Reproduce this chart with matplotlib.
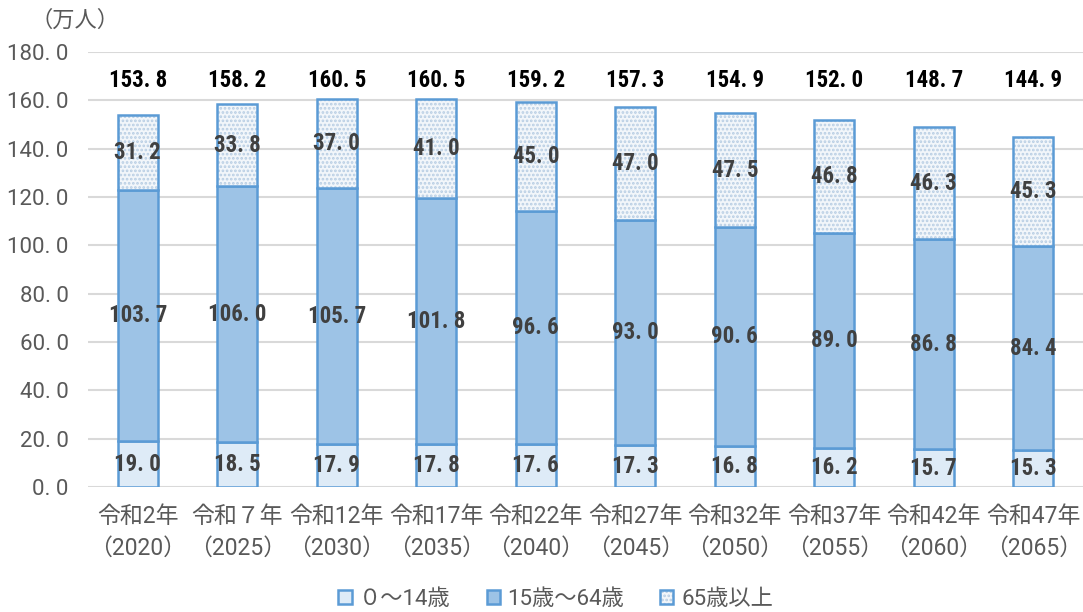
import matplotlib
matplotlib.use("Agg")
import matplotlib.pyplot as plt
import numpy as np

plt.rcParams['font.family'] = ['Noto Sans CJK JP', 'DejaVu Sans']
plt.rcParams['hatch.linewidth'] = 1.3

categories = ["令和2年\n（2020）", "令和７年\n（2025）", "令和12年\n（2030）", "令和17年\n（2035）",
              "令和22年\n（2040）", "令和27年\n（2045）", "令和32年\n（2050）", "令和37年\n（2055）",
              "令和42年\n（2060）", "令和47年\n（2065）"]
age_0_14 = [19.0, 18.5, 17.9, 17.8, 17.6, 17.3, 16.8, 16.2, 15.7, 15.3]
age_15_64 = [103.7, 106.0, 105.7, 101.8, 96.6, 93.0, 90.6, 89.0, 86.8, 84.4]
age_65_plus = [31.2, 33.8, 37.0, 41.0, 45.0, 47.0, 47.5, 46.8, 46.3, 45.3]
totals = [153.8, 158.2, 160.5, 160.5, 159.2, 157.3, 154.9, 152.0, 148.7, 144.9]
series_names = ["０～14歳", "15歳～64歳", "65歳以上"]
yticks = [0, 20, 40, 60, 80, 100, 120, 140, 160, 180]

edge = "#5B9BD5"
axis_font = ['Roboto', 'Noto Sans CJK JP', 'DejaVu Sans']

fig = plt.figure(figsize=(10.83, 6.12), dpi=100)
ax = fig.add_axes([0.0813, 0.2042, 0.9187, 0.7108])

x = np.arange(len(categories))
w = 0.4
a = np.array(age_0_14)
b = np.array(age_15_64)
c = np.array(age_65_plus)

b1 = ax.bar(x, a, w, color="#DEEBF7", edgecolor=edge, linewidth=1.8, zorder=3, label=series_names[0])
b2 = ax.bar(x, b, w, bottom=a, color="#9DC3E6", edgecolor=edge, linewidth=1.8, zorder=3, label=series_names[1])
b3 = ax.bar(x, c, w, bottom=a + b, color="#F2F6FA", edgecolor="#B7CDE3", linewidth=0, hatch="....",
            zorder=3, label=series_names[2])
# outline drawn over the dotted segment
o3 = ax.bar(x, c, w, bottom=a + b, color="none", edgecolor=edge, linewidth=1.8, zorder=4)

num_font = dict(family=['Roboto Condensed', 'DejaVu Sans'], fontweight='bold')

def fmt(v):
    return f"{v:.1f}".replace(".", ". ")

for i in range(len(x)):
    ax.text(x[i], a[i] / 2, fmt(a[i]), ha='center', va='center', fontsize=16.5, color="#404040", zorder=5, **num_font)
    ax.text(x[i], a[i] + b[i] / 2, fmt(b[i]), ha='center', va='center', fontsize=16.5, color="#404040", zorder=5, **num_font)
    ax.text(x[i], a[i] + b[i] + c[i] / 2, fmt(c[i]), ha='center', va='center', fontsize=16.5, color="#404040", zorder=5, **num_font)
    ax.text(x[i], 168.3, fmt(totals[i]), ha='center', va='center', fontsize=16.5, color="#000000", zorder=5, **num_font)

ax.set_ylim(0, 180)
ax.set_xlim(-0.5, len(x) - 0.5)
ax.set_yticks(yticks)
ax.set_yticklabels([fmt(v) for v in yticks], fontsize=16, color="#595959", family=axis_font)
ax.set_xticks(x)
ax.set_xticklabels(categories, fontsize=16.5, color="#595959", linespacing=1.5, family=axis_font)
ax.tick_params(axis='both', length=0)
ax.tick_params(axis='x', pad=13)
ax.tick_params(axis='y', pad=14)
ax.yaxis.grid(True, color="#D9D9D9", linewidth=1.5, zorder=0)
ax.set_axisbelow(True)
for s in ax.spines.values():
    s.set_visible(False)

fig.text(0.028, 0.967, "（万人）", fontsize=16, color="#595959", ha='left', va='center')

fig.legend(handles=[b1[0], b2[0], (b3[0], o3[0])], labels=series_names, loc='center',
           bbox_to_anchor=(0.513, 0.02), ncol=3, frameon=False,
           prop=dict(family=axis_font, size=16),
           handlelength=0.6, handleheight=0.6, handletextpad=0.35, columnspacing=1.6,
           labelcolor="#595959")

fig.savefig("out.png", dpi=100)
